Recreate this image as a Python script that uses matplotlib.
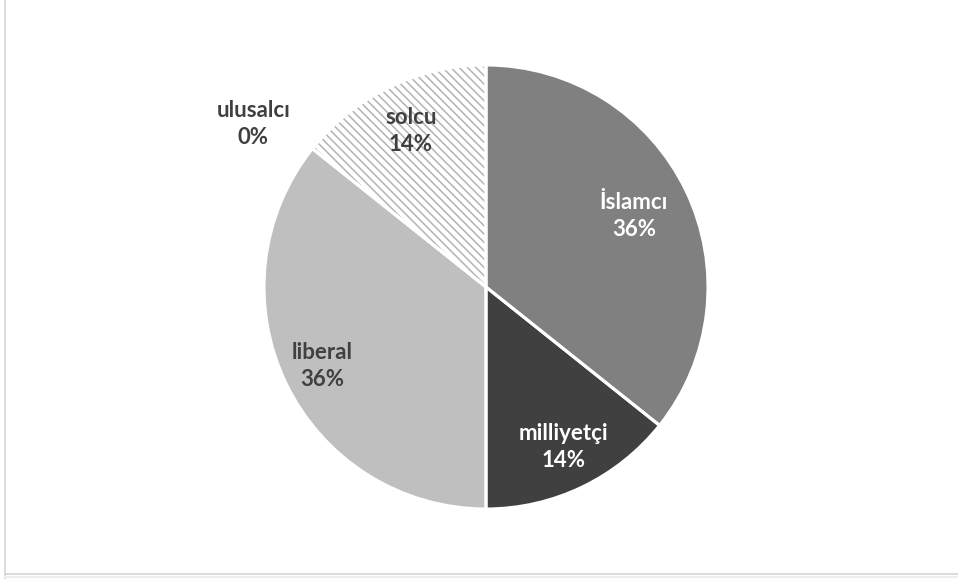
import matplotlib
matplotlib.use("Agg")
import matplotlib.pyplot as plt
from matplotlib.patches import Wedge
from matplotlib.lines import Line2D
import numpy as np

categories = ["İslamcı", "milliyetçi", "liberal", "ulusalcı", "solcu"]
values = [5, 2, 5, 0, 2]
colors = ["#808080", "#404040", "#bfbfbf", "#ffffff", "#ffffff"]
label_colors = ["white", "white", "#404040", "#404040", "#404040"]
label_dist = [0.74, 0.80, 0.82, 1.28, 0.78]
label_angle_shift = [0, 0, 0, 3.5, 0]

plt.rcParams['hatch.linewidth'] = 1.1
W, H = 958, 579
fig = plt.figure(figsize=(W/100, H/100), dpi=100)
cx, cy, r = 486, 287, 222
ax = fig.add_axes([(cx - r)/W, (H - cy - r)/H, 2*r/W, 2*r/H])
ax.set_xlim(-1, 1); ax.set_ylim(-1, 1)
ax.set_aspect('equal')
ax.axis('off')

wedges, _ = ax.pie(values, colors=colors, startangle=90, counterclock=False,
                   radius=1, center=(0, 0), frame=False,
                   wedgeprops=dict(linewidth=0))
ax.set_xlim(-1, 1); ax.set_ylim(-1, 1)
wedges[4].set_hatch('\\\\\\\\')
wedges[4].set_edgecolor('#b3b3b3')
wedges[4].set_linewidth(0)
for w in wedges:
    ow = Wedge(w.center, w.r, w.theta1, w.theta2, facecolor='none',
               edgecolor='white', linewidth=2.2)
    ax.add_patch(ow)

total = sum(values)
start = 90.0
for i, (cat, v) in enumerate(zip(categories, values)):
    span = 360.0 * v / total
    mid = start - span/2 + label_angle_shift[i]
    start -= span
    d = label_dist[i]
    x = d*np.cos(np.radians(mid)); y = d*np.sin(np.radians(mid))
    pct = f"{round(100*v/total)}%"
    ax.text(x, y, f"{cat}\n{pct}", ha='center', va='center', fontsize=16,
            fontweight='bold', family=['Lato', 'DejaVu Sans'],
            color=label_colors[i], linespacing=1.35)

# frame
fig.add_artist(Line2D([5/W, 5/W], [0, 1], color='#d9d9d9', lw=1.3))
fig.add_artist(Line2D([5/W, 1], [(H-574)/H, (H-574)/H], color='#d9d9d9', lw=1.3))
fig.add_artist(Line2D([5/W, 1], [(H-577)/H, (H-577)/H], color='#eeeeee', lw=1.5))

fig.savefig("out.png", dpi=100)
